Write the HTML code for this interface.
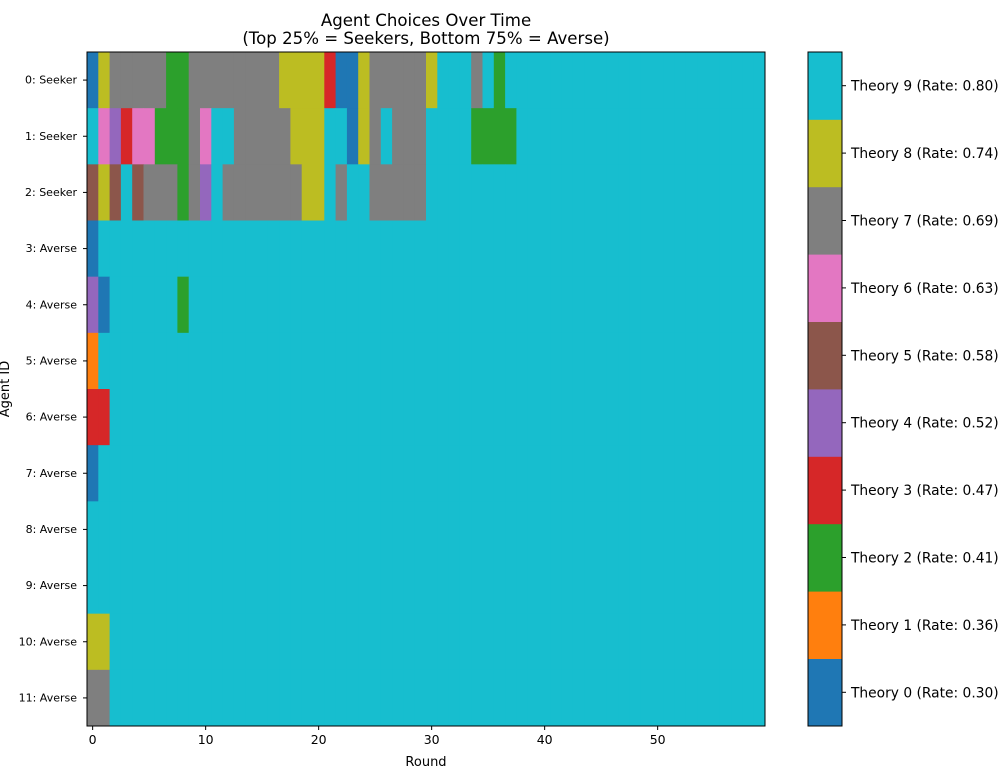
<!DOCTYPE html>
<html><head><meta charset="utf-8"><style>
html,body{margin:0;padding:0;background:#fff;}
svg{display:block;font-family:"DejaVu Sans","Liberation Sans",sans-serif;}
</style></head><body>
<svg id="chart" width="1006" height="783"></svg>
<script>
const colors=["#1f77b4","#ff7f0e","#2ca02c","#d62728","#9467bd","#8c564b","#e377c2","#7f7f7f","#bcbd22","#17becf"];
const theoryLabels=["Theory 0 (Rate: 0.30)","Theory 1 (Rate: 0.36)","Theory 2 (Rate: 0.41)","Theory 3 (Rate: 0.47)","Theory 4 (Rate: 0.52)","Theory 5 (Rate: 0.58)","Theory 6 (Rate: 0.63)","Theory 7 (Rate: 0.69)","Theory 8 (Rate: 0.74)","Theory 9 (Rate: 0.80)"];
const agentLabels=["0: Seeker","1: Seeker","2: Seeker","3: Averse","4: Averse","5: Averse","6: Averse","7: Averse","8: Averse","9: Averse","10: Averse","11: Averse"];
const xTicks=[0,10,20,30,40,50];
const nRounds=60;
const row0=[0,8,7,7,7,7,7,2,2,7,7,7,7,7,7,7,7,8,8,8,8,3,0,0,8,7,7,7,7,7,8,9,9,9,7,9,2];
const row1=[9,6,4,3,6,6,2,2,2,7,6,9,9,7,7,7,7,7,8,8,8,9,9,0,8,7,9,7,7,7,9,9,9,9,2,2,2,2];
const row2=[5,8,5,9,5,7,7,7,2,7,4,9,7,7,7,7,7,7,7,8,8,9,7,9,9,7,7,7,7,7];
const row3=[0];
const row4=[4,0,9,9,9,9,9,9,2];
const row5=[1];
const row6=[3,3];
const row7=[0];
const row8=[];
const row9=[];
const row10=[8,8];
const row11=[7,7];
const rows=[row0,row1,row2,row3,row4,row5,row6,row7,row8,row9,row10,row11];

const NS="http://www.w3.org/2000/svg";
const svg=document.getElementById('chart');
function mk(tag,attrs,parent){const e=document.createElementNS(NS,tag);for(const k in attrs)e.setAttribute(k,attrs[k]);(parent||svg).appendChild(e);return e;}
const L=87,R=765,T=52,B=726;
const cw=(R-L)/nRounds, rh=(B-T)/rows.length;
const xPos=v=>L+(v+0.5)*cw;
const yPos=i=>T+i*rh;

const g=mk('g',{});


rows.forEach((r,i)=>{
  for(let c=0;c<nRounds;c++){
    const v=c<r.length?r[c]:9;
    const rect=mk('rect',{x:L+c*cw,y:yPos(i),width:cw+0.4,height:rh+0.4,fill:colors[v]},g);
    
    
  }
});
const frame=mk('rect',{x:L,y:T,width:R-L,height:B-T,fill:'none',stroke:'#000','stroke-width':1});



agentLabels.forEach((s,i)=>{
  const y=yPos(i)+rh/2;
  mk('line',{x1:L,x2:L-4,y1:y,y2:y,stroke:'#000'});
  const t=mk('text',{x:L-10,y:y+3.5,'text-anchor':'end','font-size':'11'});
  t.textContent=s;
  
  
});
xTicks.forEach(v=>{
  const x=xPos(v);
  mk('line',{x1:x,x2:x,y1:B,y2:B+4,stroke:'#000'});
  const t=mk('text',{x:x,y:B+18,'text-anchor':'middle','font-size':'12.5'});
  t.textContent=v;
  
  
});
let t=mk('text',{x:426,y:766,'text-anchor':'middle','font-size':'13'});t.textContent='Round';


t=mk('text',{x:0,y:0,'text-anchor':'middle','font-size':'13',transform:'translate(9,389) rotate(-90)'});t.textContent='Agent ID';


t=mk('text',{x:426,y:26,'text-anchor':'middle','font-size':'16.6'});t.textContent='Agent Choices Over Time';


t=mk('text',{x:426,y:44,'text-anchor':'middle','font-size':'16.6'});t.textContent='(Top 25% = Seekers, Bottom 75% = Averse)';



// colorbar
const CL=808,CR=842;
const sh=(B-T)/colors.length;
colors.forEach((c,i)=>{
  const y=B-(i+1)*sh;
  const r=mk('rect',{x:CL,y:y,width:CR-CL,height:sh+0.4,fill:c});
  
  
  const yc=y+sh/2;
  mk('line',{x1:CR,x2:CR+4,y1:yc,y2:yc,stroke:'#000'});
  const tl=mk('text',{x:851,y:yc+5,'font-size':'13.8'});
  tl.textContent=theoryLabels[i];
  
  
});
const cf=mk('rect',{x:CL,y:T,width:CR-CL,height:B-T,fill:'none',stroke:'#000'});


t=mk('text',{x:0,y:0,'text-anchor':'middle','font-size':'13',transform:'translate(1014,389) rotate(90)'});t.textContent='Theory';


</script>
</body></html>
